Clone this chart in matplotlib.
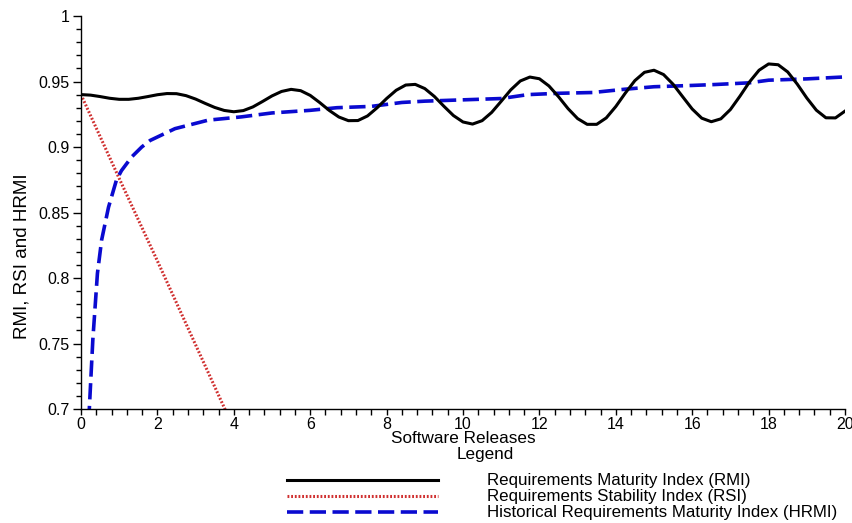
"""
RMI / RSI / HRMI over software releases (853x523 px).
"""
import matplotlib
matplotlib.use('Agg')
import matplotlib.pyplot as plt
from matplotlib.lines import Line2D
from matplotlib.ticker import MultipleLocator

plt.rcParams['font.family'] = ['Liberation Sans', 'DejaVu Sans']

# Requirements Maturity Index (RMI), read every 0.25 releases
rmi_x = [i * 0.25 for i in range(81)]
rmi_y = [
    0.9400, 0.9396, 0.9385, 0.9372, 0.9364, 0.9364, 0.9372, 0.9385, 0.9399,
    0.9408, 0.9407, 0.9392, 0.9366, 0.9333, 0.9302, 0.9279, 0.9269, 0.9278,
    0.9306, 0.9347, 0.9390, 0.9424, 0.9440, 0.9430, 0.9394, 0.9339, 0.9279,
    0.9229, 0.9201, 0.9202, 0.9237, 0.9299, 0.9370, 0.9433, 0.9473, 0.9478,
    0.9446, 0.9386, 0.9311, 0.9240, 0.9191, 0.9175, 0.9201, 0.9264, 0.9349,
    0.9436, 0.9504, 0.9534, 0.9521, 0.9466, 0.9384, 0.9293, 0.9217, 0.9173,
    0.9173, 0.9222, 0.9309, 0.9412, 0.9507, 0.9570, 0.9586, 0.9553, 0.9479,
    0.9384, 0.9290, 0.9220, 0.9193, 0.9215, 0.9286, 0.9388, 0.9497, 0.9586,
    0.9634, 0.9628, 0.9573, 0.9480, 0.9374, 0.9281, 0.9223, 0.9222, 0.9274,
]

# Requirements Stability Index (RSI)
rsi_x = [0, 1, 2, 3, 4]
rsi_y = [0.940, 0.876, 0.813, 0.749, 0.685]

# Historical Requirements Maturity Index (HRMI)
hrmi_x = [0.20, 0.31, 0.43, 0.54, 0.72, 0.93, 1.06, 1.33, 1.59, 1.81, 2.46,
          3.33, 4.2, 5.0, 6.0, 6.7, 7.6, 8.4, 9.0, 10.0, 11.0, 11.7, 12.5,
          13.4, 14.2, 15.0, 16.0, 16.6, 17.5, 18.0, 19.0, 20.0]
hrmi_y = [0.690, 0.753, 0.8035, 0.829, 0.854, 0.875, 0.882, 0.8925, 0.900,
          0.905, 0.914, 0.9205, 0.923, 0.926, 0.928, 0.930, 0.931, 0.934,
          0.935, 0.936, 0.937, 0.940, 0.941, 0.9416, 0.944, 0.946, 0.947,
          0.9477, 0.949, 0.951, 0.952, 0.9535]

labels = ['Requirements Maturity Index (RMI)',
          'Requirements Stability Index (RSI)',
          'Historical Requirements Maturity Index (HRMI)']

fig = plt.figure(figsize=(8.53, 5.23), dpi=100, facecolor='white')
W, H = 853, 523
ax = fig.add_axes([81 / W, 1 - 409 / H, 764 / W, 393 / H])

styles = [
    dict(color='black', linewidth=2.2, linestyle='-'),
    dict(color='#d03030', linewidth=2.2, linestyle=(0, (0.6, 0.6))),
    dict(color='#0a0ad0', linewidth=2.6, linestyle=(0, (4.5, 1.8))),
]

ax.plot(rmi_x, rmi_y, zorder=3, **styles[0])
ax.plot(rsi_x, rsi_y, zorder=2, **styles[1])
ax.plot(hrmi_x, hrmi_y, zorder=2, **styles[2])

ax.set_xlim(0, 20)
ax.set_ylim(0.7, 1.0)
for s in ['top', 'right']:
    ax.spines[s].set_visible(False)
for s in ['left', 'bottom']:
    ax.spines[s].set_linewidth(1.0)

ax.xaxis.set_major_locator(MultipleLocator(2))
ax.xaxis.set_minor_locator(MultipleLocator(0.4))
ax.yaxis.set_minor_locator(MultipleLocator(0.01))
ax.set_yticks([0.7, 0.75, 0.8, 0.85, 0.9, 0.95, 1.0])
ax.set_yticklabels(['0.7', '0.75', '0.8', '0.85', '0.9', '0.95', '1'])
ax.tick_params(axis='y', which='major', length=6, width=1.0,
               labelsize=11.5, pad=2)
ax.tick_params(axis='y', which='minor', length=3.5, width=1.0)
ax.tick_params(axis='x', which='both', length=4, width=1.0,
               labelsize=11.5, pad=2)

ax.set_xlabel('Software Releases', fontsize=12.3, labelpad=-1)
fig.text(22 / W, 1 - 256 / H, 'RMI, RSI and HRMI', rotation=90,
         ha='center', va='center', fontsize=13.5)

# legend block below the axes
fig.text(485 / W, 1 - 455 / H, 'Legend', ha='center', va='center',
         fontsize=12.3)
for i, (st, lab) in enumerate(zip(styles, labels)):
    yy = 1 - (480 + 16 * i) / H
    fig.add_artist(Line2D([287 / W, 438 / W], [yy, yy],
                          transform=fig.transFigure, **st))
    fig.text(487 / W, yy, lab, ha='left', va='center', fontsize=12.2)

fig.savefig('out.png', dpi=100)
